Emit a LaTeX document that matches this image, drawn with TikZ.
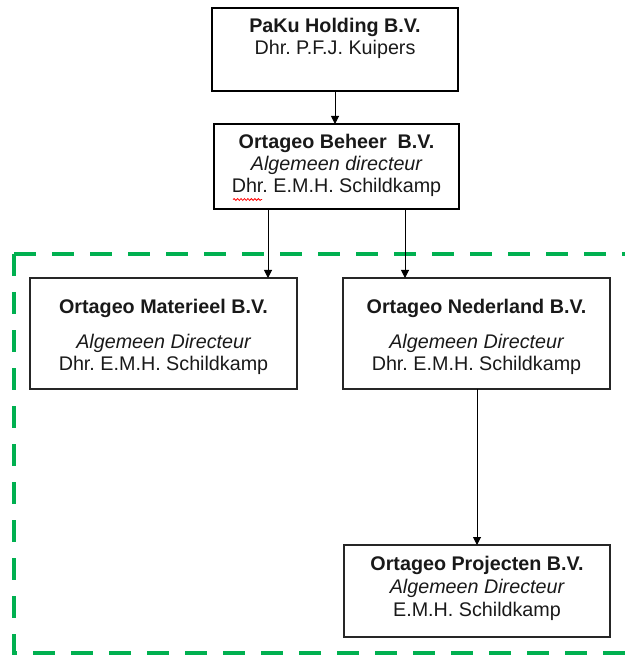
\documentclass[tikz,border=0pt]{standalone}
\usepackage{fontspec}
\setmainfont{Liberation Sans}
\frenchspacing
\usetikzlibrary{arrows.meta,decorations.pathmorphing}
\definecolor{dashgreen}{HTML}{00B050}
\begin{document}
\begin{tikzpicture}[x=0.75pt,y=-0.75pt,
  thickbox/.style={draw=black,line width=1.5pt,inner sep=0pt,outer sep=0pt},
  thinbox/.style={draw=black!85,line width=0.8pt,inner sep=0pt,outer sep=0pt},
  txt/.style={anchor=base,inner sep=0pt,font=\fontsize{14.8}{17}\selectfont\frenchspacing,text=black!90},
  arr/.style={draw=black,line width=0.75pt,-{Triangle[length=6pt,width=6pt]}},
  greendash/.style={draw=dashgreen,line width=3pt,dash pattern=on 16.5pt off 12pt}]
\useasboundingbox (0,0) rectangle (624,655);
% green dashed frame
\draw[greendash] (14,254) -- (660,254);
\draw[greendash] (14,254) -- (14,653) -- (660,653);
% boxes
\node[thickbox,minimum width={246*0.75pt},minimum height={83*0.75pt}] (paku) at (335,49.5) {};
\node[thickbox,minimum width={245*0.75pt},minimum height={85*0.75pt}] (beheer) at (336.5,166.5) {};
\node[thinbox,minimum width={267*0.75pt},minimum height={111*0.75pt}] (mat) at (163.5,333.5) {};
\node[thinbox,minimum width={267*0.75pt},minimum height={111*0.75pt}] (ned) at (476.5,333.5) {};
\node[thinbox,minimum width={266*0.75pt},minimum height={92*0.75pt}] (proj) at (477,591) {};
% texts
\node[txt] (paku1) at (335,33) {\bfseries PaKu Holding B.V.};
\node[txt] (paku2) at (335,55) {Dhr. P.F.J. Kuipers};
\node[txt] (beh1) at (336.5,149) {\bfseries Ortageo Beheer\ \ B.V.};
\node[txt] (beh2) at (336.5,171) {\itshape Algemeen directeur};
\node[txt] (beh3) at (336.5,193) {Dhr. E.M.H. Schildkamp};
\node[txt] (mat1) at (163.5,313) {\bfseries Ortageo Materieel B.V.};
\node[txt] (mat2) at (163.5,348) {\itshape Algemeen Directeur};
\node[txt] (mat3) at (163.5,370) {Dhr. E.M.H. Schildkamp};
\node[txt] (ned1) at (476.5,313) {\bfseries Ortageo Nederland B.V.};
\node[txt] (ned2) at (476.5,348) {\itshape Algemeen Directeur};
\node[txt] (ned3) at (476.5,370) {Dhr. E.M.H. Schildkamp};
\node[txt] (proj1) at (477,570) {\bfseries Ortageo Projecten B.V.};
\node[txt] (proj2) at (477,593) {\itshape Algemeen Directeur};
\node[txt] (proj3) at (477,616) {E.M.H. Schildkamp};
% spell-check squiggle
\draw[red,line width=0.6pt,decorate,decoration={snake,amplitude=0.7pt,segment length=2.6pt}] (233,199.5) -- (262,199.5);
% connector columns
\coordinate (c1) at (335,0);
\coordinate (c2) at (268,0);
\coordinate (c3) at (405,0);
\coordinate (c4) at (477,0);
% connectors
\draw[arr] (paku.south -| c1) -- (beheer.north -| c1);
\draw[arr] (beheer.south -| c2) -- (mat.north -| c2);
\draw[arr] (beheer.south -| c3) -- (ned.north -| c3);
\draw[arr] (ned.south -| c4) -- (proj.north -| c4);
\end{tikzpicture}
\end{document}
